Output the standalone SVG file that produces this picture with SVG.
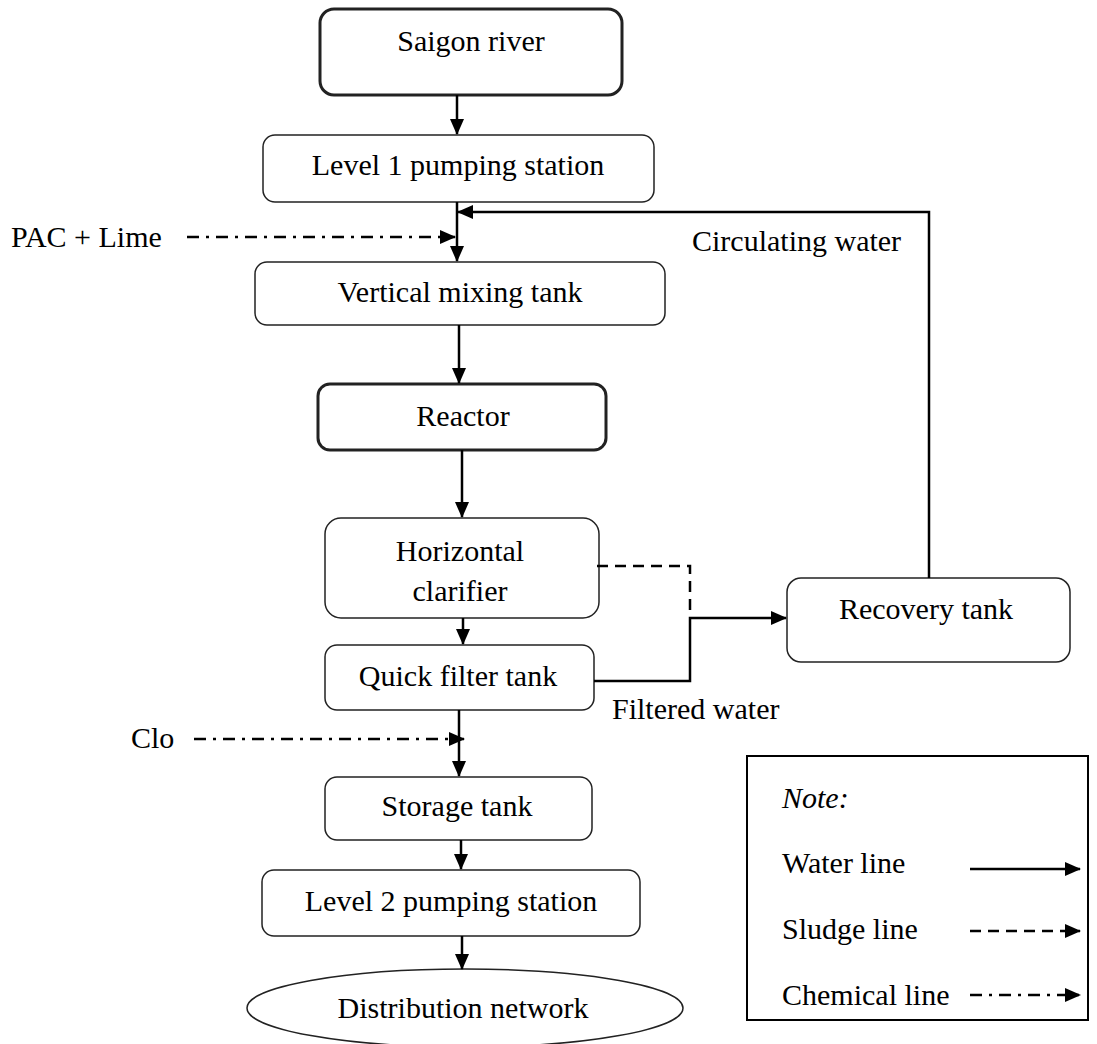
<svg xmlns="http://www.w3.org/2000/svg" width="1097" height="1044" viewBox="0 0 1097 1044">
<style>
.box{fill:#fff;stroke:#222;stroke-width:1.5}
.bold{stroke-width:3}
.t{font-family:"Liberation Serif","Times New Roman",serif;font-size:30px;fill:#000;text-anchor:middle}
.tl{font-family:"Liberation Serif","Times New Roman",serif;font-size:30px;fill:#000}
.w{fill:none;stroke:#000;stroke-width:2.5}
.s{fill:none;stroke:#000;stroke-width:2.5;stroke-dasharray:11 7}
.c{fill:none;stroke:#000;stroke-width:2.5;stroke-dasharray:12 7 3 7}
</style>
<defs>
<marker id="ah" markerUnits="userSpaceOnUse" markerWidth="16" markerHeight="14" refX="15" refY="7" orient="auto">
<path d="M0,0 L16,7 L0,14 Z" fill="#000"/>
</marker>
</defs>
<g id="n-saigon"><rect class="box bold" x="320" y="9" width="302" height="86" rx="14"/><text class="t" x="471" y="51">Saigon river</text></g>
<g id="n-level1"><rect class="box" x="263" y="135" width="391" height="67" rx="12"/><text class="t" x="458" y="175">Level 1 pumping station</text></g>
<g id="n-mixing"><rect class="box" x="255" y="262" width="410" height="63" rx="12"/><text class="t" x="460" y="302">Vertical mixing tank</text></g>
<g id="n-reactor"><rect class="box bold" x="318" y="384" width="288" height="66" rx="12"/><text class="t" x="463" y="426">Reactor</text></g>
<g id="n-clarifier"><rect class="box" x="325" y="518" width="274" height="100" rx="16"/><text class="t" x="460" y="561">Horizontal</text><text class="t" x="460" y="601">clarifier</text></g>
<g id="n-filter"><rect class="box" x="325" y="645" width="269" height="65" rx="12"/><text class="t" x="458" y="686">Quick filter tank</text></g>
<g id="n-recovery"><rect class="box" x="787" y="578" width="283" height="84" rx="14"/><text class="t" x="926" y="619">Recovery tank</text></g>
<g id="n-storage"><rect class="box" x="325" y="777" width="267" height="63" rx="12"/><text class="t" x="457" y="816">Storage tank</text></g>
<g id="n-level2"><rect class="box" x="262" y="870" width="378" height="66" rx="12"/><text class="t" x="451" y="911">Level 2 pumping station</text></g>
<g id="n-network"><ellipse class="box" cx="465" cy="1008" rx="218" ry="39"/><text class="t" x="463" y="1018">Distribution network</text></g>
<g id="labels">
<text class="tl" x="11" y="247">PAC + Lime</text>
<text class="tl" x="131" y="748">Clo</text>
<text class="tl" x="692" y="251">Circulating water</text>
<text class="tl" x="612" y="719">Filtered water</text>
</g>
<g id="connectors">
<path class="w" d="M457,95 V134" marker-end="url(#ah)"/>
<path class="w" d="M457,202 V261" marker-end="url(#ah)"/>
<path class="w" d="M929,578 V212 H458" marker-end="url(#ah)"/>
<path class="c" d="M187,237 H455" marker-end="url(#ah)"/>
<path class="w" d="M459,325 V383" marker-end="url(#ah)"/>
<path class="w" d="M462,450 V517" marker-end="url(#ah)"/>
<path class="w" d="M463,618 V644" marker-end="url(#ah)"/>
<path class="s" d="M597,566 H690 V612"/>
<path class="w" d="M594,681 H690 V618 H786" marker-end="url(#ah)"/>
<path class="w" d="M459,710 V776" marker-end="url(#ah)"/>
<path class="c" d="M194,739 H464" marker-end="url(#ah)"/>
<path class="w" d="M461,840 V869" marker-end="url(#ah)"/>
<path class="w" d="M462,936 V969" marker-end="url(#ah)"/>
</g>
<g id="legend">
<rect x="747" y="756" width="341" height="264" fill="#fff" stroke="#000" stroke-width="2"/>
<text class="tl" x="782" y="808" font-style="italic">Note:</text>
<text class="tl" x="782" y="873">Water line</text>
<text class="tl" x="782" y="939">Sludge line</text>
<text class="tl" x="782" y="1005">Chemical line</text>
<path class="w" d="M970,869 H1080" marker-end="url(#ah)"/>
<path class="s" d="M970,931 H1080" marker-end="url(#ah)"/>
<path class="c" d="M970,995 H1080" marker-end="url(#ah)"/>
</g>
</svg>
